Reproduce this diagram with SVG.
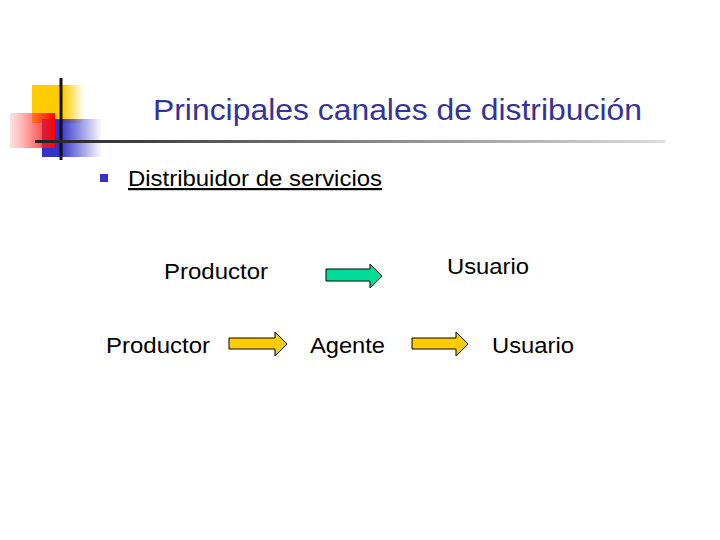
<svg xmlns="http://www.w3.org/2000/svg" width="720" height="540" viewBox="0 0 720 540">
<defs>
<linearGradient id="y" x1="0" x2="1"><stop offset="0.6" stop-color="#ffcc00"/><stop offset="1" stop-color="#ffcc00" stop-opacity="0"/></linearGradient>
<linearGradient id="r" x1="0" x2="1"><stop offset="0" stop-color="#ff6666" stop-opacity="0.2"/><stop offset="1" stop-color="#ff0000"/></linearGradient>
<linearGradient id="b" x1="0" x2="1"><stop offset="0.3" stop-color="#3333cc"/><stop offset="1" stop-color="#3333cc" stop-opacity="0"/></linearGradient>
<linearGradient id="l" x1="0" x2="1"><stop offset="0" stop-color="#222"/><stop offset="1" stop-color="#ddd"/></linearGradient>
<style>
text{font-family:"Liberation Sans",Arial,sans-serif;fill:#000}
.t{font-size:22px}
.ar{stroke:#000;stroke-width:1}
</style>
</defs>
<g id="logo">
<rect x="32" y="85" width="52" height="38" fill="url(#y)"/>
<rect x="42" y="119" width="60" height="38" fill="url(#b)"/>
<rect x="10" y="113" width="45" height="35" fill="url(#r)"/>
<line x1="61" y1="78" x2="61" y2="160" stroke="#111" stroke-width="3"/>
<rect x="35" y="140" width="630" height="3" fill="url(#l)"/>
</g>
<g id="title"><text x="153" y="120" font-size="29" textLength="489" lengthAdjust="spacingAndGlyphs" style="fill:#333399">Principales canales de distribución</text></g>
<g id="bullet"><rect x="100" y="174" width="8" height="8" fill="#3333cc"/>
<text x="128" y="186" class="t" textLength="254" lengthAdjust="spacingAndGlyphs" text-decoration="underline">Distribuidor de servicios</text></g>
<g id="n1"><text x="164" y="279" class="t" textLength="104" lengthAdjust="spacingAndGlyphs">Productor</text></g>
<g id="n2"><text x="447" y="274" class="t" textLength="82" lengthAdjust="spacingAndGlyphs">Usuario</text></g>
<g id="n3"><text x="106" y="353" class="t" textLength="104" lengthAdjust="spacingAndGlyphs">Productor</text></g>
<g id="n4"><text x="310" y="353" class="t" textLength="75" lengthAdjust="spacingAndGlyphs">Agente</text></g>
<g id="n5"><text x="492" y="353" class="t" textLength="82" lengthAdjust="spacingAndGlyphs">Usuario</text></g>
<g id="connectors">
<path class="ar" fill="#00dd99" d="M326,269H370V264L382,276L370,288V281H326Z"/>
<path class="ar" fill="#ffcc00" d="M229,338H275V332L287,344L275,356V349H229Z"/>
<path class="ar" fill="#ffcc00" d="M412,338H456V332L468,344L456,356V349H412Z"/>
</g>
</svg>
